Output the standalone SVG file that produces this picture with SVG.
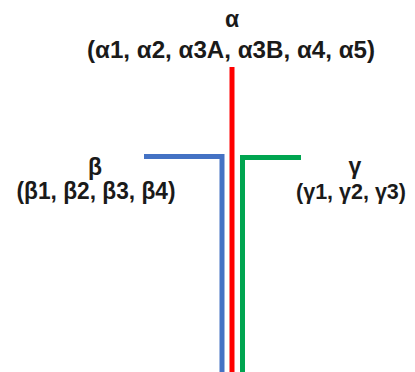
<svg xmlns="http://www.w3.org/2000/svg" width="415" height="372" viewBox="0 0 415 372">
  <style>
    .lbl { font-family: "Liberation Sans", Arial, sans-serif; font-weight: bold; font-size: 23px; fill: #1a1a1a; text-anchor: middle; }
    .bar { fill: none; stroke-width: 5; stroke-linecap: butt; stroke-linejoin: miter; }
  </style>
  <rect width="415" height="372" fill="#ffffff"/>
  <g id="connectors">
    <polyline class="bar" stroke="#4472c4" points="144,156.5 222,156.5 222,372"/>
    <polyline class="bar" stroke="#ff0000" points="232,67 232,372"/>
    <polyline class="bar" stroke="#00a550" points="301,157.5 242.5,157.5 242.5,372"/>
  </g>
  <g id="alpha">
    <text class="lbl" x="232" y="27">α</text>
    <text class="lbl" x="231" y="58" textLength="288" lengthAdjust="spacingAndGlyphs">(α1, α2, α3A, α3B, α4, α5)</text>
  </g>
  <g id="beta">
    <text class="lbl" x="95" y="175">β</text>
    <text class="lbl" x="96" y="199" textLength="159" lengthAdjust="spacingAndGlyphs">(β1, β2, β3, β4)</text>
  </g>
  <g id="gamma">
    <text class="lbl" x="355" y="174">γ</text>
    <text class="lbl" x="351" y="199" style="font-size:21.5px">(γ1, γ2, γ3)</text>
  </g>
</svg>
